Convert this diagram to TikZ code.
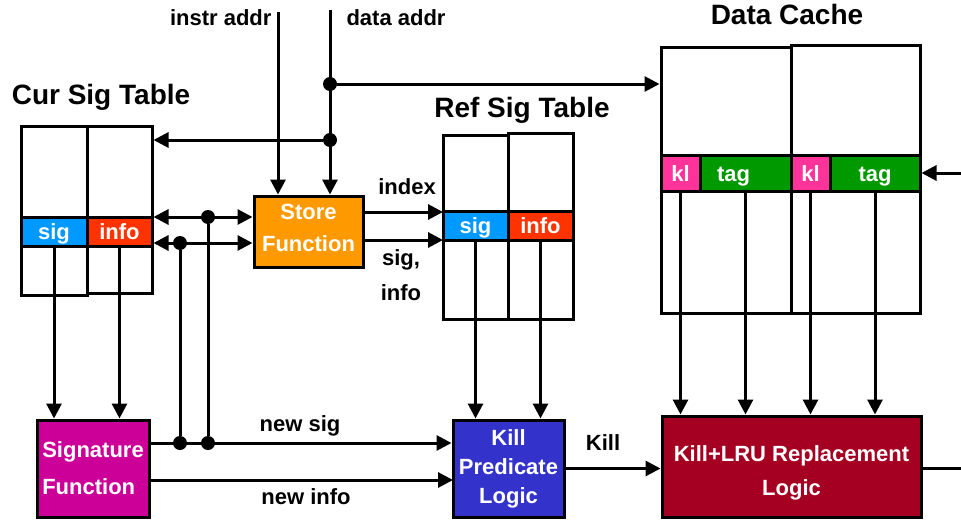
\documentclass[tikz,border=0pt]{standalone}
\usepackage{fontspec}
\setmainfont{Liberation Sans}
\usepackage{tikz}
\usetikzlibrary{arrows.meta}

\definecolor{sigblue}{HTML}{0099FF}
\definecolor{infored}{HTML}{FF3300}
\definecolor{storeorange}{HTML}{FF9900}
\definecolor{sigmagenta}{HTML}{CC0099}
\definecolor{killblue}{HTML}{3333CC}
\definecolor{lrured}{HTML}{A50021}
\definecolor{klpink}{HTML}{FF3399}
\definecolor{taggreen}{HTML}{009900}

\tikzset{
  tbl/.style={draw, line width=3pt, inner sep=0pt},
  band/.style={draw, line width=3pt, inner sep=0pt, text=white,
               text height=16pt, text depth=0pt,
               font=\fontsize{22}{26}\selectfont\bfseries},
  block/.style={draw, line width=3pt, inner sep=0pt, text=white,
                align=center},
  dot/.style={circle, fill, inner sep=0pt, minimum size=14pt},
  wire/.style={line width=3pt},
  arr/.style={wire, -{Triangle[length=15pt,width=15pt]}},
  dblarr/.style={wire, {Triangle[length=15pt,width=15pt]}-{Triangle[length=15pt,width=15pt]}},
  lbl/.style={font=\fontsize{22}{26}\selectfont\bfseries},
  ttl/.style={font=\fontsize{28}{32}\selectfont\bfseries}
}

\begin{document}
\begin{tikzpicture}[x=1pt,y=-1pt]
\useasboundingbox (0,0) rectangle (961,522);

% titles
\node[ttl] (curttl) at (101,97) {Cur Sig Table};
\node[ttl] (refttl) at (522,110) {Ref Sig Table};
\node[ttl] (dcttl) at (787,14) {Data Cache};

% cur sig table
\node[tbl, minimum width=66pt, minimum height=169pt] (cst1) at (54,210.5) {};
\node[tbl, minimum width=65pt, minimum height=167pt] (cst2) at (119.5,209.5) {};
\node[band, fill=sigblue, minimum width=66pt, minimum height=29pt] (csig) at (54,231.5) {sig};
\node[band, fill=infored, minimum width=65pt, minimum height=29pt] (cinfo) at (119.5,231.5) {info};

% ref sig table
\node[tbl, minimum width=65pt, minimum height=184pt] (rst1) at (475.5,227) {};
\node[tbl, minimum width=65pt, minimum height=186pt] (rst2) at (540.5,226) {};
\node[band, fill=sigblue, minimum width=65pt, minimum height=29pt] (rsig) at (475.5,225.5) {sig};
\node[band, fill=infored, minimum width=65pt, minimum height=29pt] (rinfo) at (540.5,225.5) {info};

% data cache
\node[tbl, minimum width=130pt, minimum height=266pt] (dc1) at (726,180) {};
\node[tbl, minimum width=129pt, minimum height=268pt] (dc2) at (855.5,179) {};
\node[band, fill=klpink, minimum width=39pt, minimum height=36pt] (kl1) at (680.5,173) {kl};
\node[band, fill=taggreen, minimum width=91pt, minimum height=36pt] (tag1) at (745.5,173) {tag\hspace*{24pt}};
\node[band, fill=klpink, minimum width=39pt, minimum height=36pt] (kl2) at (810.5,173) {kl};
\node[band, fill=taggreen, minimum width=90pt, minimum height=36pt] (tag2) at (875,173) {tag};

% logic blocks
\node[block, fill=storeorange, minimum width=109pt, minimum height=71pt,
      text depth=8pt,
      font=\fontsize{22}{32}\selectfont\bfseries] (store) at (308.5,231.5) {Store\\Function};
\node[block, fill=sigmagenta, minimum width=112pt, minimum height=97pt, align=left,
      font=\fontsize{22}{37}\selectfont\bfseries] (sigfun) at (93,468.5) {Signature\\Function};
\node[block, fill=killblue, minimum width=111pt, minimum height=97pt,
      font=\fontsize{22}{29}\selectfont\bfseries] (killpred) at (508.5,468.5) {Kill\\Predicate\\Logic};
\node[block, fill=lrured, minimum width=259pt, minimum height=101pt,
      text height=58pt, text depth=0pt,
      font=\fontsize{22}{34}\selectfont\bfseries] (lru) at (791.5,466.5) {Kill+LRU Replacement\\Logic};

% address inputs
\coordinate (instr) at (278,12);
\coordinate (daddr) at (330,10);
\node[lbl, anchor=east] (instrlbl) at (275,18) {instr addr};
\node[lbl, anchor=west] (daddrlbl) at (343,18) {data addr};
\draw[arr] (instr) -- (instr |- store.north);
\draw[arr] (daddr) -- (daddr |- store.north);
\node[dot] (d1) at (330,84) {};
\node[dot] (d2) at (330,140) {};
\draw[arr] (d1) -- (d1 -| dc1.west);
\draw[arr] (d2) -- (d2 -| cst2.east);

% cur sig table <-> store function
\node[dot] (j1) at (208,217) {};
\node[dot] (j2) at (180,243) {};
\draw[dblarr] (j1 -| cinfo.east) -- (j1 -| store.west);
\draw[dblarr] (j2 -| cinfo.east) -- (j2 -| store.west);
\node[dot] (j3) at (180,443) {};
\node[dot] (j4) at (208,443) {};
\draw[wire] (j1) -- (j4);
\draw[wire] (j2) -- (j3);

% store function -> ref sig table
\coordinate (idx) at (443,212);
\coordinate (sgi) at (443,240);
\draw[arr] (idx -| store.east) -- (idx);
\draw[arr] (sgi -| store.east) -- (sgi);
\node[lbl] (idxlbl) at (407,187) {index};
\node[lbl, align=center, font=\fontsize{22}{35}\selectfont\bfseries] (sgilbl) at (401,275) {sig,\\info};

% cur sig table -> signature function
\draw[arr] (csig.south) -- (csig.south |- sigfun.north);
\draw[arr] (cinfo.south) -- (cinfo.south |- sigfun.north);

% signature function -> kill predicate
\draw[arr] (j3 -| sigfun.east) -- (j3 -| killpred.west);
\coordinate (ni) at (453,480);
\draw[arr] (ni -| sigfun.east) -- (ni);
\node[lbl] (nslbl) at (300,426) {new sig};
\node[lbl] (nilbl) at (306,497) {new info};

% ref sig table -> kill predicate
\draw[arr] (rsig.south) -- (rsig.south |- killpred.north);
\draw[arr] (rinfo.south) -- (rinfo.south |- killpred.north);

% kill predicate -> replacement logic
\draw[arr] (killpred.east) -- (killpred.east -| lru.west);
\node[lbl] (killlbl) at (603,443) {Kill};

% data cache -> replacement logic
\draw[arr] (kl1.south) -- (kl1.south |- lru.north);
\draw[arr] (tag1.south) -- (tag1.south |- lru.north);
\draw[arr] (kl2.south) -- (kl2.south |- lru.north);
\draw[arr] (tag2.south) -- (tag2.south |- lru.north);

% right side
\coordinate (tagin) at (961,173);
\draw[arr] (tagin) -- (tag2.east);
\coordinate (lruout) at (961,468);
\draw[wire] (lruout -| lru.east) -- (lruout);
\end{tikzpicture}
\end{document}
